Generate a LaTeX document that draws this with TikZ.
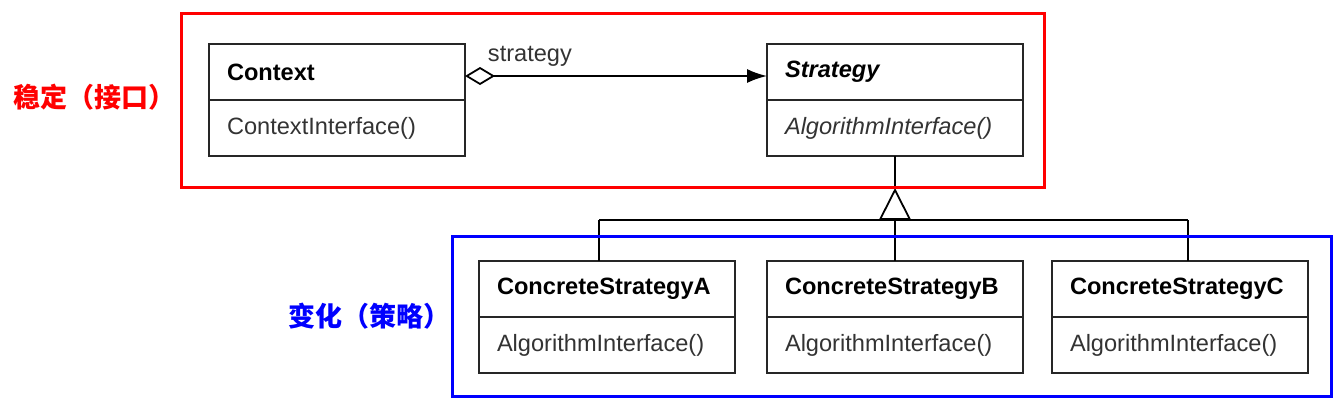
\documentclass[tikz,border=0pt]{standalone}
\usepackage{fontspec}
\setmainfont{Liberation Sans}
\newfontfamily\cjk{Noto Sans CJK SC}
\usepackage{tikz}
\usetikzlibrary{arrows.meta, positioning, calc}
\definecolor{stablered}{rgb}{1.0, 0.0, 0.0}
\definecolor{changeblue}{rgb}{0.0, 0.0, 1.0}
\definecolor{textgray}{rgb}{0.2, 0.2, 0.2}

\begin{document}
\begin{tikzpicture}[
        x=0.5pt, y=-0.5pt,
        umlhead/.style={rectangle, draw=black!85, line width=0.9pt, fill=white, outer sep=0pt, minimum width=128pt, minimum height=28pt, text width=110pt, inner xsep=9pt, inner ysep=0pt, align=left, font=\fontsize{11.8}{14}\selectfont\bfseries},
        umlops/.style={umlhead, text=textgray, font=\fontsize{11.8}{14}\selectfont},
        aggr/.style={line width=0.9pt, {Diamond[open, length=15pt, width=9pt]}-{Latex[length=10pt, width=7pt]}},
        inherit/.style={line width=0.9pt, -{Triangle[open, length=16pt, width=16pt]}},
        link/.style={line width=0.9pt},
        groupbox/.style={rectangle, line width=1.5pt, inner sep=0pt},
        note/.style={inner sep=0pt, font=\cjk\bfseries\fontsize{13.5}{16}\selectfont}
    ]
        \useasboundingbox (0,0) rectangle (1344,413);

        % interface side
        \node [umlhead] (ctx) at (337,72) {Context};
        \node [umlops, below=0pt of ctx] (ctxops) {ContextInterface()};
        \node [umlhead, font=\fontsize{11.8}{14}\selectfont\bfseries\itshape] (strat) at (895,72) {Strategy};
        \node [umlops, below=0pt of strat, font=\fontsize{11.8}{14}\selectfont\itshape] (stratops) {AlgorithmInterface()};

        % concrete strategies
        \node [umlhead] (csA) at (607,289) {ConcreteStrategyA};
        \node [umlops, below=0pt of csA] (csAops) {AlgorithmInterface()};
        \node [umlhead] (csB) at (895,289) {ConcreteStrategyB};
        \node [umlops, below=0pt of csB] (csBops) {AlgorithmInterface()};
        \node [umlhead] (csC) at (1180,289) {ConcreteStrategyC};
        \node [umlops, below=0pt of csC] (csCops) {AlgorithmInterface()};

        \draw [aggr] ([yshift=-2pt]ctx.east) -- ([yshift=-2pt]strat.west)
            node [pos=0.215, above=1pt, text=textgray, font=\fontsize{11.8}{14}\selectfont] (rolelbl) {strategy};

        \coordinate (apex) at (895,188);
        \coordinate (hub) at (895,220);
        \coordinate (hubA) at (599,220);
        \coordinate (hubC) at (1188,220);
        \draw [link] (stratops.south) -- (apex);
        \draw [inherit] (hub) -- (apex);
        \draw [link] (hubA) -- (hubC);
        \draw [link] (hubA) -- (hubA |- csA.north);
        \draw [link] (hub) -- (csB.north);
        \draw [link] (hubC) -- (hubC |- csC.north);

        % groups
        \node [groupbox, draw=stablered, minimum width=431.5pt, minimum height=87pt] (stable) at (612.5,100) {};
        \node [groupbox, draw=changeblue, minimum width=439.5pt, minimum height=80pt] (variant) at (891.5,316) {};
        \node [note, text=stablered, left=2pt of stable, yshift=1.5pt] (stablelbl) {稳定（接口）};
        \node [note, text=changeblue, left=0pt of variant] (variantlbl) {变化（策略）};
    \end{tikzpicture}
\end{document}
